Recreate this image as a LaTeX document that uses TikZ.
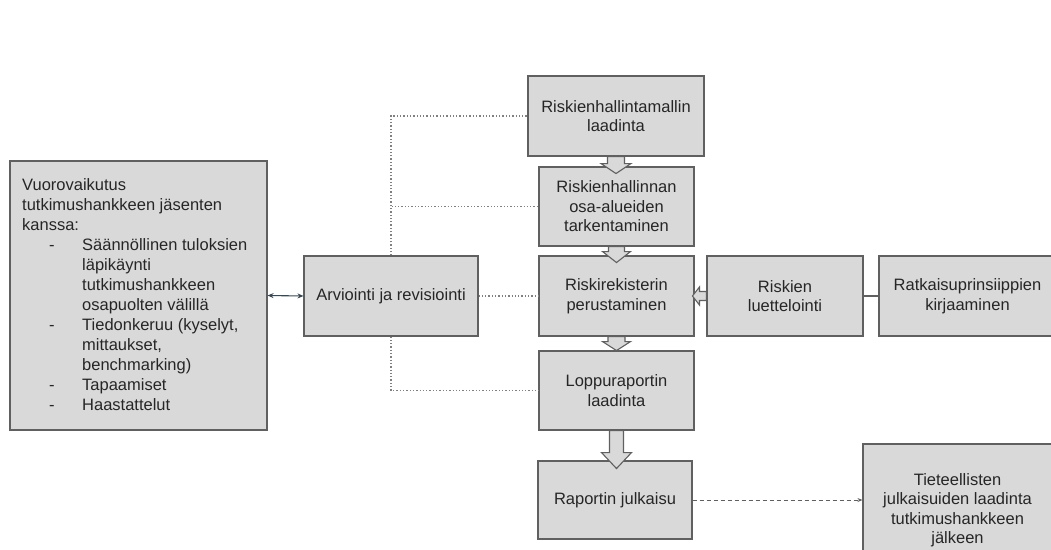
\documentclass[tikz,border=0pt]{standalone}
\usepackage{fontspec}
\setmainfont{Liberation Sans}
\usetikzlibrary{calc,arrows.meta}
\definecolor{boxfill}{HTML}{D9D9D9}
\definecolor{boxline}{HTML}{606060}
\definecolor{ink}{HTML}{262626}
\definecolor{dotline}{HTML}{808080}
\definecolor{linkline}{HTML}{3A4750}
\newcommand\lblfont{\fontsize{16.5}{19.5}\selectfont}
\newcommand\listfont{\fontsize{16.5}{20}\selectfont}
\begin{document}
\begin{tikzpicture}[x=1pt,y=-1pt,
  box/.style={draw=boxline, fill=boxfill, line width=1.1pt, align=center,
              text=ink, font=\lblfont, inner sep=2pt},
  blockarrow/.style={draw=boxline, fill=boxfill, line width=1.1pt, line join=miter},
  dotlink/.style={draw=dotline, line width=1.3pt, dash pattern=on 1.3pt off 2pt},
  dashlink/.style={draw=boxline, line width=1pt, dash pattern=on 4pt off 3pt,
                   -{Stealth[length=5pt,width=4pt]}},
  bothlink/.style={draw=linkline, line width=1.1pt,
                   {Stealth[length=6pt,width=5pt]}-{Stealth[length=6pt,width=5pt]}}
]
\useasboundingbox (0,0) rectangle (1051,549);
\clip (0,0) rectangle (1051,549);

% left-hand description box
\node[box, minimum width=257pt, minimum height=269pt] (lb) at (138.5,295.5) {};
\node[anchor=north west, inner sep=0pt, align=left, text=ink, font=\listfont] (lbtext) at (22,178)
  {Vuorovaikutus\\
   tutkimushankkeen jäsenten\\
   kanssa:\\
   \makebox[60pt][l]{\hspace*{27pt}-}Säännöllinen tuloksien\\
   \hspace*{60pt}läpikäynti\\
   \hspace*{60pt}tutkimushankkeen\\
   \hspace*{60pt}osapuolten välillä\\
   \makebox[60pt][l]{\hspace*{27pt}-}Tiedonkeruu (kyselyt,\\
   \hspace*{60pt}mittaukset,\\
   \hspace*{60pt}benchmarking)\\
   \makebox[60pt][l]{\hspace*{27pt}-}Tapaamiset\\
   \makebox[60pt][l]{\hspace*{27pt}-}Haastattelut};

% evaluation box
\node[box, minimum width=174pt, minimum height=80pt] (arv) at (391,296) {Arviointi ja revisiointi};

% main process column
\node[box, minimum width=176pt, minimum height=80pt] (b1) at (616,116) {Riskienhallintamallin\\laadinta};
\node[box, minimum width=155pt, minimum height=79pt] (b2) at (616.5,206.5) {Riskienhallinnan\\osa-alueiden\\tarkentaminen};
\node[box, minimum width=155pt, minimum height=80pt] (b3) at (616.5,296) {Riskirekisterin\\perustaminen};
\node[box, minimum width=155pt, minimum height=79pt] (b4) at (616.5,390.5) {Loppuraportin\\laadinta};
\node[box, minimum width=154pt, minimum height=78pt] (b5) at (615,500) {Raportin julkaisu};

% inputs on the right
\node[box, minimum width=156pt, minimum height=80pt] (luett) at (785,296) {Riskien\\luettelointi};
\node[box, minimum width=177pt, minimum height=80pt] (ratk) at (967.5,296) {Ratkaisuprinsiippien\\kirjaaminen};
\node[box, minimum width=189pt, minimum height=132pt] (tiet) at (957.5,510) {Tieteellisten\\julkaisuiden laadinta\\tutkimushankkeen\\jälkeen};

% dotted feedback links from the evaluation
\draw[dotlink] (arv.north) |- (b1.west);
\draw[dotlink] (arv.north) |- (b2.west);
\draw[dotlink] (arv.east) -- (b3.west);
\draw[dotlink] (arv.south) |- (b4.west);

% other connectors
\draw[bothlink] (lb.east) -- (arv.west);
\draw[draw=boxline, line width=1.1pt] (luett.east) -- (ratk.west);
\draw[dashlink] (b5.east) -- (b5.east -| tiet.west);

% hollow block arrows between the steps
\draw[blockarrow, shift={(b1.south)}]
  (-8.5,0) -- (-8.5,7) -- (-15,7) -- (0,17) -- (15,7) -- (8.5,7) -- (8.5,0) -- cycle;
\draw[blockarrow, shift={(b2.south)}]
  (-8,0) -- (-8,5) -- (-14,5) -- (0,16) -- (14,5) -- (8,5) -- (8,0) -- cycle;
\draw[blockarrow, shift={(b3.south)}]
  (-8.5,0) -- (-8.5,5) -- (-14,5) -- (0,14) -- (14,5) -- (8.5,5) -- (8.5,0) -- cycle;
\draw[blockarrow, shift={(b4.south)}]
  (-7,0) -- (-7,22) -- (-15,22) -- (0,38) -- (15,22) -- (7,22) -- (7,0) -- cycle;
\draw[blockarrow, shift={(luett.west)}]
  (0,-4.5) -- (-7,-4.5) -- (-7,-9) -- (-14,0) -- (-7,9) -- (-7,4.5) -- (0,4.5) -- cycle;
\end{tikzpicture}
\end{document}
